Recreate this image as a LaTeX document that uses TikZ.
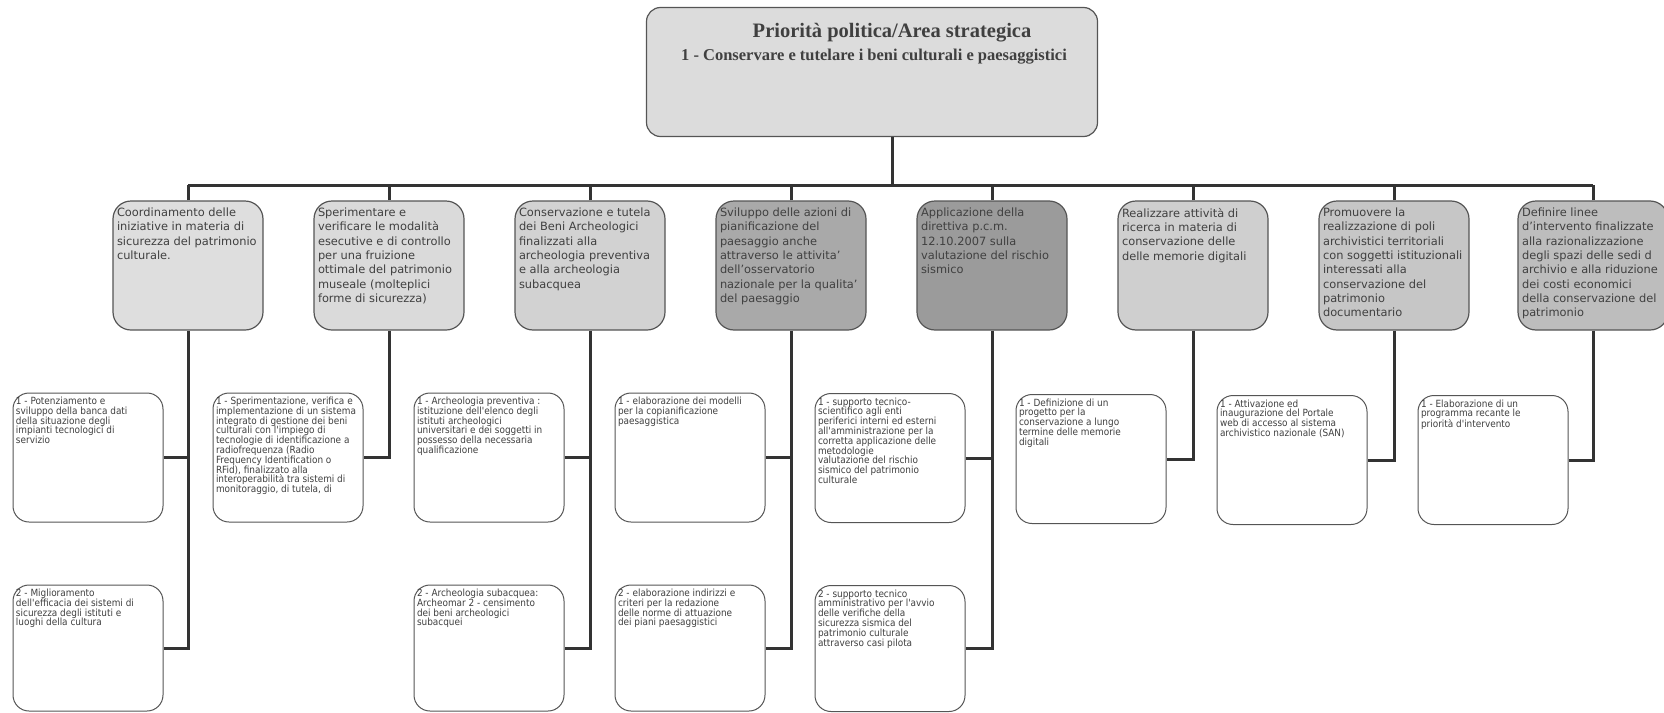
\documentclass[tikz,border=0pt]{standalone}
\usepackage{fontspec}
\setmainfont{DejaVu Sans}
\newfontfamily\titlefont{Liberation Serif}
\newfontfamily\narrowfont{DejaVu Sans Condensed}
\definecolor{edge}{HTML}{555555}
\definecolor{wire}{HTML}{333333}
\definecolor{ink}{HTML}{404040}
\definecolor{headfill}{HTML}{DCDCDC}
\definecolor{fa}{HTML}{DEDEDE}
\definecolor{fb}{HTML}{DADADA}
\definecolor{fc}{HTML}{D2D2D2}
\definecolor{fd}{HTML}{A9A9A9}
\definecolor{fe}{HTML}{9B9B9B}
\definecolor{ff}{HTML}{CFCFCF}
\definecolor{fg}{HTML}{C6C6C6}
\definecolor{fh}{HTML}{BDBDBD}
\newcommand{\goaltext}[1]{\parbox[c][115pt][t]{142pt}{\raggedright #1}}
\newcommand{\tasktext}[2][121pt]{\parbox[c][#1][t]{144pt}{\raggedright #2}}
\begin{document}
\begin{tikzpicture}[x=1pt, y=-1pt,
    head/.style = {draw=edge, fill=headfill, line width=1.2pt, rounded corners=14pt, minimum width=451pt, minimum height=129pt, inner sep=0pt},
    goal/.style = {draw=edge, line width=1.2pt, rounded corners=18pt, inner xsep=4pt, inner ysep=7pt, text=ink, font=\fontsize{11.4pt}{14.3pt}\selectfont},
    task/.style = {draw=edge, fill=white, line width=1pt, rounded corners=16pt, inner xsep=3pt, inner ysep=4pt, text=ink, font=\narrowfont\fontsize{9.9pt}{9.8pt}\selectfont},
    link/.style = {draw=wire, line width=3pt}]
				\useasboundingbox (0,0) rectangle (1664,712);
				
				\node[head] (0) at (872,72) {};
				\node[anchor=base, text=ink, font=\titlefont\bfseries\fontsize{20.5pt}{24pt}\selectfont] (0t) at (892,37) {Priorità politica/Area strategica};
				\node[anchor=base, text=ink, font=\titlefont\bfseries\fontsize{16.5pt}{20pt}\selectfont] (0s) at (874,60) {1 - Conservare e tutelare i beni culturali e paesaggistici};
				
				\node[goal, fill=fa] (1) at (188,265.5) {\goaltext{Coordinamento delle\\ iniziative in materia di\\ sicurezza del patrimonio\\ culturale.}};
				\node[goal, fill=fb] (2) at (389,265.5) {\goaltext{Sperimentare e\\ verificare le modalità\\ esecutive e di controllo\\ per una fruizione\\ ottimale del patrimonio\\ museale (molteplici\\ forme di sicurezza)}};
				\node[goal, fill=fc] (3) at (590,265.5) {\goaltext{Conservazione e tutela\\ dei Beni Archeologici\\ finalizzati alla\\ archeologia preventiva\\ e alla archeologia\\ subacquea}};
				\node[goal, fill=fd] (4) at (791,265.5) {\goaltext{Sviluppo delle azioni di\\ pianificazione del\\ paesaggio anche\\ attraverso le attivita'\\ dell'osservatorio\\ nazionale per la qualita'\\ del paesaggio}};
				\node[goal, fill=fe] (5) at (992,265.5) {\goaltext{Applicazione della\\ direttiva p.c.m.\\ 12.10.2007 sulla\\ valutazione del rischio\\ sismico}};
				\node[goal, fill=ff] (6) at (1193,265.5) {\goaltext{Realizzare attività di\\ ricerca in materia di\\ conservazione delle\\ delle memorie digitali}};
				\node[goal, fill=fg] (7) at (1394,265.5) {\goaltext{Promuovere la\\ realizzazione di poli\\ archivistici territoriali\\ con soggetti istituzionali\\ interessati alla\\ conservazione del\\ patrimonio\\ documentario}};
				\node[goal, fill=fh] (8) at (1593,265.5) {\goaltext{Definire linee\\ d'intervento finalizzate\\ alla razionalizzazione\\ degli spazi delle sedi d\\ archivio e alla riduzione\\ dei costi economici\\ della conservazione del\\ patrimonio}};
				
				\node[task] (1a) at (88,457.5) {\tasktext{1 - Potenziamento e\\ sviluppo della banca dati\\ della situazione degli\\ impianti tecnologici di\\ servizio}};
				\node[task] (1b) at (88,648) {\tasktext[118pt]{2 - Miglioramento\\ dell'efficacia dei sistemi di\\ sicurezza degli istituti e\\ luoghi della cultura}};
				\node[task] (2a) at (288,457.5) {\tasktext{1 - Sperimentazione, verifica e\\ implementazione di un sistema\\ integrato di gestione dei beni\\ culturali con l'impiego di\\ tecnologie di identificazione a\\ radiofrequenza (Radio\\ Frequency Identification o\\ RFid), finalizzato alla\\ interoperabilità tra sistemi di\\ monitoraggio, di tutela, di}};
				\node[task] (3a) at (489,457.5) {\tasktext{1 - Archeologia preventiva :\\ istituzione dell'elenco degli\\ istituti archeologici\\ universitari e dei soggetti in\\ possesso della necessaria\\ qualificazione}};
				\node[task] (3b) at (489,648) {\tasktext[118pt]{2 - Archeologia subacquea:\\ Archeomar 2 - censimento\\ dei beni archeologici\\ subacquei}};
				\node[task] (4a) at (690,457.5) {\tasktext{1 - elaborazione dei modelli\\ per la copianificazione\\ paesaggistica}};
				\node[task] (4b) at (690,648) {\tasktext[118pt]{2 - elaborazione indirizzi e\\ criteri per la redazione\\ delle norme di attuazione\\ dei piani paesaggistici}};
				\node[task] (5a) at (890,458) {\tasktext{1 - supporto tecnico-\\ scientifico agli enti\\ periferici interni ed esterni\\ all'amministrazione per la\\ corretta applicazione delle\\ metodologie\\ valutazione del rischio\\ sismico del patrimonio\\ culturale}};
				\node[task] (5b) at (890,648.5) {\tasktext[118pt]{2 - supporto tecnico\\ amministrativo per l'avvio\\ delle verifiche della\\ sicurezza sismica del\\ patrimonio culturale\\ attraverso casi pilota}};
				\node[task] (6a) at (1091,459) {\tasktext{1 - Definizione di un\\ progetto per la\\ conservazione a lungo\\ termine delle memorie\\ digitali}};
				\node[task] (7a) at (1292,460) {\tasktext{1 - Attivazione ed\\ inaugurazione del Portale\\ web di accesso al sistema\\ archivistico nazionale (SAN)}};
				\node[task] (8a) at (1493,460) {\tasktext{1 - Elaborazione di un\\ programma recante le\\ priorità d'intervento}};
				
				% tree lines
				\coordinate (bar) at (892,185);
				\draw[link] (0.south -| bar) -- (bar);
				\draw[link] (1.north |- bar) -- (8.north |- bar);
				\foreach \i in {1,...,8}
					\draw[link] (\i.north) -- (\i.north |- bar);
				
				\draw[link] (1.south) |- (1b.east);
				\draw[link] (1a.east) -- (1a.east -| 1.south);
				\draw[link] (2.south) |- (2a.east);
				\draw[link] (3.south) |- (3b.east);
				\draw[link] (3a.east) -- (3a.east -| 3.south);
				\draw[link] (4.south) |- (4b.east);
				\draw[link] (4a.east) -- (4a.east -| 4.south);
				\draw[link] (5.south) |- (5b.east);
				\draw[link] (5a.east) -- (5a.east -| 5.south);
				\draw[link] (6.south) |- (6a.east);
				\draw[link] (7.south) |- (7a.east);
				\draw[link] (8.south) |- (8a.east);
			\end{tikzpicture}
\end{document}
